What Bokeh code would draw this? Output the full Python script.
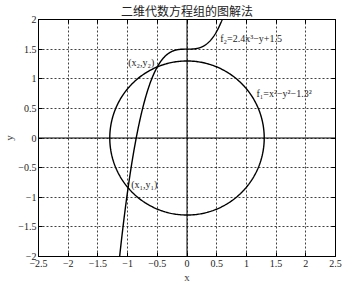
import numpy as np
from bokeh.plotting import figure
from bokeh.models import Range1d, LinearAxis, Span, FixedTicker, Label
from bokeh.embed import file_html
from bokeh.resources import INLINE

# parameters
radius = 1.3
coef_a = 2.4
coef_b = 1.5

x_ticks = [-2.5, -2, -1.5, -1, -0.5, 0, 0.5, 1, 1.5, 2, 2.5]
y_ticks = [-2, -1.5, -1, -0.5, 0, 0.5, 1, 1.5, 2]
x_tick_labels = {-2.5: "−2.5", -2: "−2", -1.5: "−1.5", -1: "−1", -0.5: "−0.5", 0: "0",
                 0.5: "0.5", 1: "1", 1.5: "1.5", 2: "2", 2.5: "2.5"}
y_tick_labels = {-2: "−2", -1.5: "−1.5", -1: "−1", -0.5: "−0.5", 0: "0",
                 0.5: "0.5", 1: "1", 1.5: "1.5", 2: "2"}

labels_text = ["f₂=2.4x³−y+1.5", "f₁=x²−y²−1.3²", "(x₂,y₂)", "(x₁,y₁)"]
labels_x = [0.56, 1.17, -0.99, -0.94]
labels_y = [1.68, 0.75, 1.28, -0.78]

title_text = "二维代数方程组的图解法"

serif = "Liberation Serif"

p = figure(width=345, height=285, output_backend="svg", toolbar_location=None,
           x_range=Range1d(-2.5, 2.5), y_range=Range1d(-2, 2),
           min_border_left=36, min_border_right=10, min_border_top=19, min_border_bottom=26)
p.title.text = title_text
p.title.text_font = "Liberation Serif, Noto Sans CJK SC"
p.title.text_font_size = "12px"
p.title.text_font_style = "normal"
p.title.align = "center"
p.title.text_color = "#222222"
p.title.offset = 0
p.title.standoff = 2

p.outline_line_color = "black"
p.outline_line_width = 1
p.background_fill_color = "white"

for ax in p.xaxis:
    ax.ticker = FixedTicker(ticks=x_ticks)
    ax.major_label_overrides = x_tick_labels
    ax.axis_label = "x"
    ax.axis_label_standoff = 1
    ax.major_label_standoff = 3
for ax in p.yaxis:
    ax.ticker = FixedTicker(ticks=y_ticks)
    ax.major_label_overrides = y_tick_labels
    ax.axis_label = "y"
    ax.axis_label_standoff = 0
    ax.major_label_standoff = 2
for ax in list(p.xaxis) + list(p.yaxis):
    ax.major_tick_in = 4
    ax.major_tick_out = 0
    ax.minor_tick_in = 0
    ax.minor_tick_out = 0
    ax.axis_line_color = "black"
    ax.major_label_text_font = serif
    ax.major_label_text_font_size = "10px"
    ax.major_label_text_color = "#222222"
    ax.axis_label_text_font = serif
    ax.axis_label_text_font_size = "11px"
    ax.axis_label_text_font_style = "normal"

empty_x = {t: "" for t in x_ticks}
empty_y = {t: "" for t in y_ticks}
top_ax = LinearAxis(ticker=FixedTicker(ticks=x_ticks), major_label_overrides=empty_x,
                    major_tick_in=4, major_tick_out=0, minor_tick_in=0, minor_tick_out=0,
                    major_label_standoff=0)
right_ax = LinearAxis(ticker=FixedTicker(ticks=y_ticks), major_label_overrides=empty_y,
                      major_tick_in=4, major_tick_out=0, minor_tick_in=0, minor_tick_out=0,
                      major_label_standoff=0)
p.add_layout(top_ax, "above")
p.add_layout(right_ax, "right")

p.xgrid.ticker = FixedTicker(ticks=x_ticks)
p.ygrid.ticker = FixedTicker(ticks=y_ticks)
for g in (p.xgrid, p.ygrid):
    g.grid_line_color = "black"
    g.grid_line_dash = "2 2"
    g.grid_line_width = 1
    g.grid_line_alpha = 0.75

p.add_layout(Span(location=0, dimension="width", line_color="black", line_width=1))
p.add_layout(Span(location=0, dimension="height", line_color="black", line_width=1))

# circle f1
t = np.linspace(0, 2 * np.pi, 400)
p.line(radius * np.cos(t), radius * np.sin(t), line_color="black", line_width=1.4)

# curve f2: y = a x^3 + b
xc = np.linspace(-1.2, 0.65, 400)
p.line(xc, coef_a * xc ** 3 + coef_b, line_color="black", line_width=1.4)

for txt, lx, ly in zip(labels_text, labels_x, labels_y):
    p.add_layout(Label(x=lx, y=ly, text=txt, text_font=serif, text_font_size="10px",
                       text_color="#222222", text_baseline="middle", text_align="left"))

open("out.html", "w").write(file_html(p, INLINE))
